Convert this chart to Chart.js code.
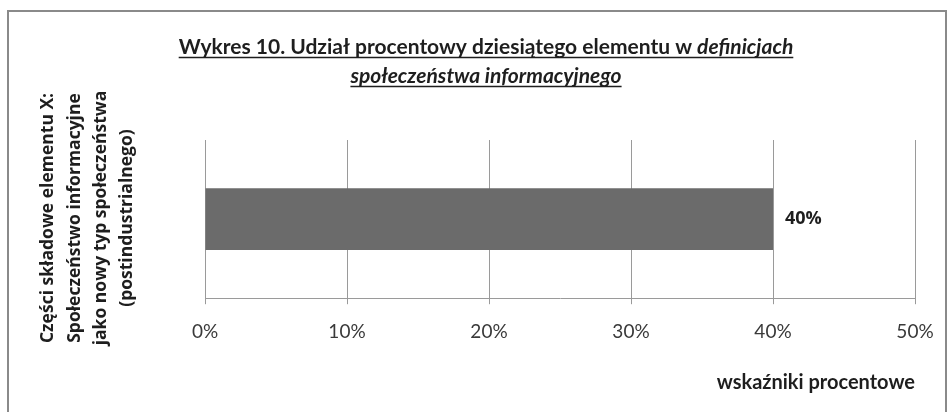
<!DOCTYPE html>
<html>
<head>
<meta charset="utf-8">
<script src="https://cdn.jsdelivr.net/npm/chart.js@4"></script>
<style>
  html, body { margin: 0; padding: 0; background: #fff; }
  #wrap { width: 950px; height: 412px; }
</style>
</head>
<body>
<div id="wrap"><canvas id="chart" width="950" height="412"></canvas></div>
<script>
// Dane wykresu
const categories = ["X"];
const shares = [40];
const tickValues = [0, 10, 20, 30, 40, 50];

const yTitleLines = [
  "Części składowe elementu X:",
  "Społeczeństwo informacyjne",
  "jako nowy typ społeczeństwa",
  "(postindustrialnego)"
];
const xTitle = "wskaźniki procentowe";

const FONT = "Lato, 'Open Sans', sans-serif";
const FONT2 = "'Open Sans', Lato, sans-serif";

// ramka, tytuł z podkreśleniem, opis osi Y i etykieta słupka
const decor = {
  id: "decor",
  beforeDraw(chart) {
    const ctx = chart.ctx;
    ctx.save();
    ctx.fillStyle = "#fff";
    ctx.fillRect(0, 0, chart.width, chart.height);
    ctx.strokeStyle = "#8a8a8a";
    ctx.lineWidth = 2;
    ctx.strokeRect(8, 11, 938, 420);
    ctx.restore();
  },
  afterDraw(chart) {
    const ctx = chart.ctx;
    ctx.save();
    ctx.fillStyle = "#1e1e1e";
    ctx.strokeStyle = "#1e1e1e";
    ctx.textBaseline = "alphabetic";

    // tytuł: dwie linie, część kursywą
    const cx = 486;
    const parts1 = [
      { t: "Wykres 10. Udział procentowy dziesiątego elementu w ", it: false },
      { t: "definicjach", it: true }
    ];
    const parts2 = [{ t: "społeczeństwa informacyjnego", it: true }];
    const drawLine = (parts, y) => {
      let w = 0;
      parts.forEach(p => {
        ctx.font = (p.it ? "italic " : "") + "bold 21px " + FONT;
        p.w = ctx.measureText(p.t).width;
        w += p.w;
      });
      let x = cx - w / 2;
      const x0 = x;
      parts.forEach(p => {
        ctx.font = (p.it ? "italic " : "") + "bold 21px " + FONT;
        ctx.fillText(p.t, x, y);
        x += p.w;
      });
      ctx.lineWidth = 1.3;
      ctx.beginPath();
      ctx.moveTo(x0, y + 3.5);
      ctx.lineTo(x, y + 3.5);
      ctx.stroke();
    };
    drawLine(parts1, 54);
    drawLine(parts2, 83);

    // opis osi Y, obrócony
    ctx.font = "bold 17.5px " + FONT2;
    ctx.textAlign = "center";
    ctx.textBaseline = "middle";
    const xs = [48, 75, 101, 127];
    yTitleLines.forEach((line, i) => {
      ctx.save();
      ctx.translate(xs[i], 218);
      ctx.rotate(-Math.PI / 2);
      ctx.fillText(line, 0, 0);
      ctx.restore();
    });

    // etykieta wartości przy słupku
    const meta = chart.getDatasetMeta(0);
    ctx.font = "bold 18px " + FONT2;
    ctx.textAlign = "left";
    ctx.textBaseline = "middle";
    meta.data.forEach((bar, i) => {
      ctx.fillText(shares[i] + "%", bar.x + 12, bar.y);
    });
    ctx.restore();
  }
};

new Chart(document.getElementById("chart"), {
  type: "bar",
  data: {
    labels: categories,
    datasets: [{
      data: shares,
      backgroundColor: "#6b6b6b",
      borderWidth: 0,
      categoryPercentage: 1,
      barPercentage: 0.39
    }]
  },
  options: {
    indexAxis: "y",
    responsive: false,
    animation: false,
    layout: { padding: { left: 197, right: 35, top: 140, bottom: 17 } },
    plugins: {
      legend: { display: false },
      tooltip: { enabled: false }
    },
    scales: {
      x: {
        min: 0,
        max: 50,
        afterBuildTicks(axis) {
          axis.ticks = tickValues.map(v => ({ value: v }));
        },
        grid: {
          color: "#9a9a9a",
          lineWidth: 1,
          tickLength: 6,
          drawTicks: true
        },
        border: { color: "#9a9a9a", width: 1 },
        ticks: {
          color: "#3a3a3a",
          font: { family: FONT, size: 19 },
          padding: 16,
          callback: v => v + "%"
        },
        title: {
          display: true,
          text: xTitle,
          align: "end",
          color: "#1e1e1e",
          font: { family: FONT, size: 20, weight: "bold" },
          padding: { top: 12, bottom: 0 }
        }
      },
      y: {
        grid: { display: false },
        border: { color: "#9a9a9a", width: 1 },
        ticks: { display: false }
      }
    }
  },
  plugins: [decor]
});
</script>
</body>
</html>
